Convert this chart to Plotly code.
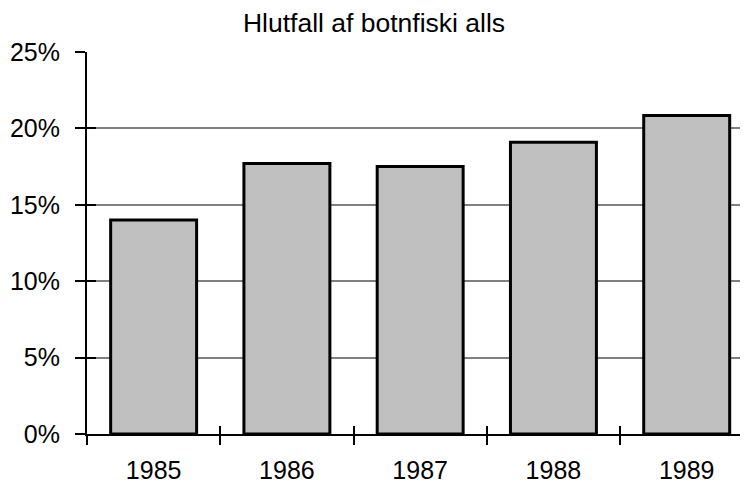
import plotly.graph_objects as go

years = ["1985", "1986", "1987", "1988", "1989"]
shares = [14.0, 17.7, 17.5, 19.1, 20.85]
y_ticks = [0, 5, 10, 15, 20, 25]
y_tick_labels = ["0%", "5%", "10%", "15%", "20%", "25%"]
title_text = "Hlutfall af botnfiski alls"

FONT = "Liberation Sans, Arial, sans-serif"
x_range = [-0.5, len(years) - 0.54]

fig = go.Figure()
fig.add_trace(go.Bar(
    x=list(range(len(years))), y=shares,
    marker=dict(color="#c0c0c0", line=dict(color="black", width=3)),
    hoverinfo="skip",
))

boundaries = [i + 0.5 for i in range(-1, len(years))]

fig.update_layout(
    width=740, height=476,
    margin=dict(l=79, r=0, t=44, b=50, autoexpand=False),
    paper_bgcolor="white", plot_bgcolor="white",
    font=dict(family=FONT, size=25, color="black"),
    title=dict(text=title_text, x=0.4946, xref="container", xanchor="center",
               y=0.9685, yref="container", yanchor="middle",
               font=dict(family=FONT, size=26.5, color="black")),
    bargap=0.355,
    showlegend=False,
    xaxis=dict(
        range=x_range, tickmode="array",
        tickvals=list(range(len(years))), ticktext=years,
        ticks="", showgrid=False, zeroline=False,
        showline=True, linecolor="black", linewidth=2,
        ticklabelstandoff=13, automargin=False,
        tickfont=dict(size=25),
    ),
    yaxis=dict(
        range=[0, 25], tickmode="array", tickvals=y_ticks, ticktext=y_tick_labels,
        ticks="outside", ticklen=10, tickwidth=2, tickcolor="black",
        showgrid=True, gridcolor="#808080", gridwidth=2,
        zeroline=False, showline=True, linecolor="black", linewidth=2,
        ticklabelstandoff=10, automargin=False,
        tickfont=dict(size=25),
    ),
    xaxis2=dict(
        overlaying="x", anchor="y", side="bottom", range=x_range,
        tickmode="array", tickvals=boundaries, showticklabels=False,
        ticks="outside", ticklen=10, tickwidth=2, tickcolor="black",
        showgrid=False, zeroline=False, showline=False, automargin=False,
    ),
    xaxis3=dict(
        overlaying="x", anchor="y", side="bottom", range=x_range,
        tickmode="array", tickvals=boundaries, showticklabels=False,
        ticks="inside", ticklen=8, tickwidth=2, tickcolor="black",
        showgrid=False, zeroline=False, showline=False, automargin=False,
    ),
    yaxis2=dict(
        overlaying="y", anchor="x", side="left", range=[0, 25],
        tickmode="array", tickvals=y_ticks, showticklabels=False,
        ticks="inside", ticklen=9, tickwidth=2, tickcolor="black",
        showgrid=False, zeroline=False, showline=False, automargin=False,
    ),
)
fig.add_trace(go.Scatter(x=[], y=[], xaxis="x2", yaxis="y2", hoverinfo="skip"))
fig.add_trace(go.Scatter(x=[], y=[], xaxis="x3", yaxis="y", hoverinfo="skip"))

fig.write_html("out.html")
